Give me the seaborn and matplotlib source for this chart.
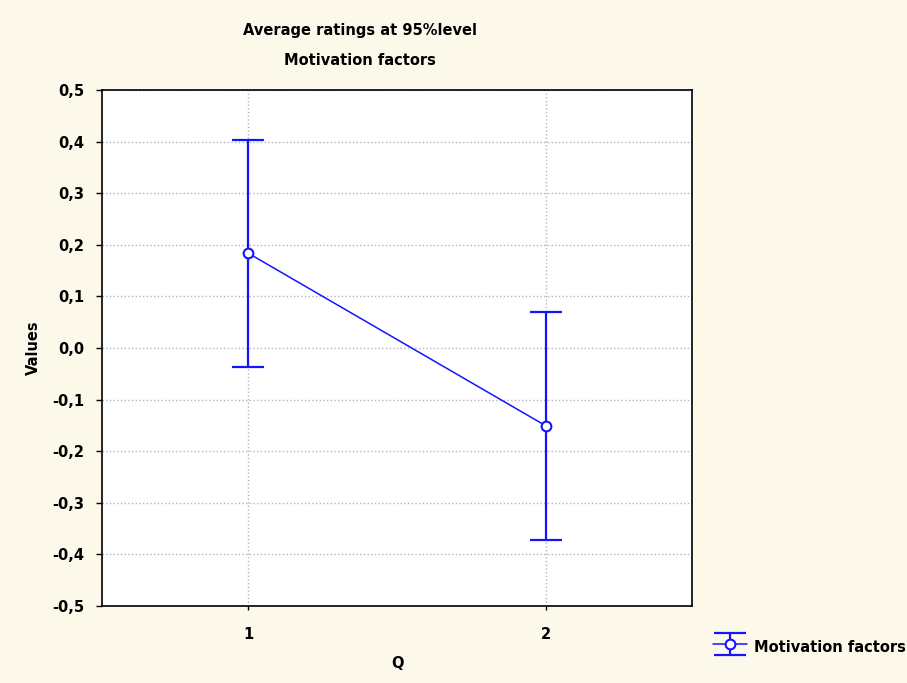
import numpy as np
import pandas as pd
import matplotlib
matplotlib.use('Agg')
import matplotlib.pyplot as plt
import seaborn as sns
from matplotlib.ticker import FuncFormatter
from matplotlib.container import ErrorbarContainer
from matplotlib.legend_handler import HandlerErrorbar

# ─── DATA ─────────────────────────────────────────────
q_levels = [1, 2]
means = [0.184, -0.151]
ci_low = [-0.037, -0.372]
ci_high = [0.404, 0.070]
series_name = 'Motivation factors'
title_line = 'Average ratings at 95%level'

df = pd.DataFrame({'Q': q_levels, 'Values': means})
err = [np.array(means) - np.array(ci_low), np.array(ci_high) - np.array(means)]

sns.set_theme(style='white')
plt.rcParams['font.family'] = ['DejaVu Sans']
plt.rcParams['font.weight'] = 'bold'
plt.rcParams['text.color'] = 'black'
plt.rcParams['axes.labelcolor'] = 'black'
plt.rcParams['axes.labelweight'] = 'bold'

blue = '#1414ff'
fs = 10.5
fig = plt.figure(figsize=(9.07, 6.83), dpi=100, facecolor='#fcf8ea')
ax = fig.add_axes([0.1125, 0.1127, 0.6505, 0.7555])
ax.set_facecolor('white')

# line + markers through seaborn
sns.lineplot(data=df, x='Q', y='Values', ax=ax, color=blue, linewidth=1.1,
             marker='o', markersize=7, markerfacecolor='white',
             markeredgecolor=blue, markeredgewidth=1.5, legend=False, zorder=3)
line = ax.lines[0]
# confidence intervals
eb = ax.errorbar(df['Q'], df['Values'], yerr=err, fmt='none', ecolor=blue,
                 elinewidth=1.6, capsize=11.5, capthick=1.6, zorder=2)

ax.set_xlim(0.51, 2.49)
ax.set_ylim(-0.5, 0.5)
ax.set_xticks(q_levels)
ax.set_yticks(np.arange(-0.5, 0.51, 0.1))
ax.yaxis.set_major_formatter(FuncFormatter(lambda v, _: f'{v:.1f}'.replace('.', ',').replace('-0,0', '0,0')))
ax.tick_params(axis='y', direction='out', length=4, width=1, colors='black',
               labelsize=fs, left=True, pad=9)
ax.tick_params(axis='x', direction='out', length=3, width=1, colors='black',
               labelsize=fs, bottom=True, pad=12)
ax.grid(True, linestyle=':', color='#b4b4c4', linewidth=1)
for s in ax.spines.values():
    s.set_color('black')
    s.set_linewidth(1.2)

ax.set_xlabel('Q', fontsize=fs, labelpad=10)
ax.set_ylabel('Values', fontsize=fs, labelpad=8)

fig.text(0.397, 0.955, title_line, ha='center', va='center', fontsize=fs)
fig.text(0.397, 0.912, series_name, ha='center', va='center', fontsize=fs)

fig.legend([(eb, line)], [series_name], loc='center left', bbox_to_anchor=(0.780, 0.052),
           frameon=False, fontsize=fs, handlelength=2.3, handleheight=2.0,
           handletextpad=0.5, borderaxespad=0,
           handler_map={ErrorbarContainer: HandlerErrorbar(xerr_size=0.5, yerr_size=0.75)})

fig.savefig('out.png', dpi=100, facecolor=fig.get_facecolor())
